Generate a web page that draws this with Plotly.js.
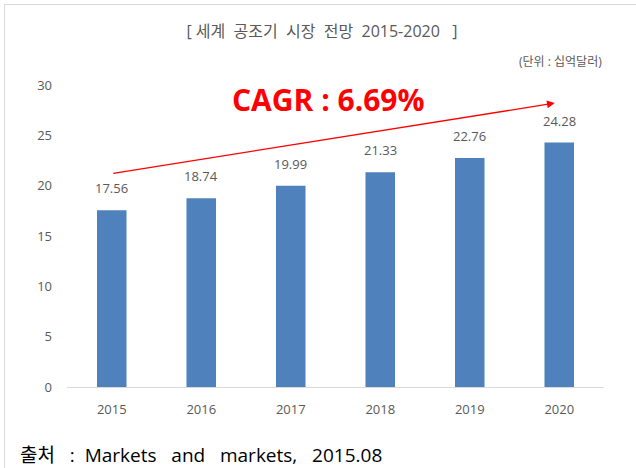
<!DOCTYPE html>
<html><head><meta charset="utf-8">
<script src="https://cdn.plot.ly/plotly-3.0.1.min.js"></script>
<style>
html,body{margin:0;padding:0;background:#fff;}
#frame{position:absolute;left:4px;top:4px;width:640px;height:470px;border-top:1px solid #d9d9d9;border-left:1px solid #d9d9d9;}
#chart{position:absolute;left:0;top:0;width:636px;height:468px;}
</style></head>
<body>
<div id="frame"></div>
<div id="chart"></div>
<script>
const years = ['2015','2016','2017','2018','2019','2020'];
const values = [17.56, 18.74, 19.99, 21.33, 22.76, 24.28];
const yTicks = [0, 5, 10, 15, 20, 25, 30];
const titleText = '[\u00a0세계\u00a0\u00a0공조기\u00a0\u00a0시장\u00a0\u00a0전망\u00a0\u00a02015-2020\u00a0\u00a0\u00a0]';
const unitText = '(단위 : 십억달러)';
const cagrText = 'CAGR\u00a0:\u00a06.69%';
const sourceText = '출처\u00a0\u00a0\u00a0:\u00a0\u00a0Markets\u00a0\u00a0\u00a0and\u00a0\u00a0\u00a0markets,\u00a0\u00a0\u00a02015.08';
const arrowStart = [0, 21.2];
const arrowEnd = [4.95, 28.2];

const font = "'Open Sans', 'Noto Sans CJK KR', sans-serif";
const grey = '#595959';
const xs = years.map((_, i) => i);

const labelAnns = xs.map((x, i) => ({
  x: x, y: values[i], xref: 'x', yref: 'y',
  text: values[i].toFixed(2), showarrow: false,
  yanchor: 'bottom', yshift: 11,
  font: {family: font, size: 13, color: grey}
}));

const layout = {
  width: 636, height: 468,
  margin: {l: 67, r: 32, t: 85, b: 81},
  paper_bgcolor: 'rgba(0,0,0,0)', plot_bgcolor: 'rgba(0,0,0,0)',
  showlegend: false,
  bargap: 0.67,
  font: {family: font, color: grey},
  title: {text: titleText, x: 322/636, xref: 'container', xanchor: 'center', y: 1 - 31/468, yanchor: 'middle',
          font: {family: font, size: 16, color: grey}},
  xaxis: {range: [-0.5, 5.5], tickvals: xs, ticktext: years, showgrid: false, showline: true,
          linecolor: '#d9d9d9', linewidth: 1, ticks: '', tickfont: {family: font, size: 13, color: grey},
          ticklabelstandoff: 10, zeroline: false},
  yaxis: {range: [0, 30], tickvals: yTicks, showgrid: false, showline: false, zeroline: false,
          ticks: '', tickfont: {family: font, size: 13, color: grey}, ticklabelstandoff: 14},
  annotations: labelAnns.concat([
    {xref: 'paper', yref: 'paper', x: 1.0, y: (468-62-81)/302, xanchor: 'right', yanchor: 'middle',
     text: unitText, showarrow: false, font: {family: font, size: 12, color: grey}},
    {xref: 'x', yref: 'y', x: arrowEnd[0], y: arrowEnd[1], ax: arrowStart[0], ay: arrowStart[1],
     axref: 'x', ayref: 'y', showarrow: true, arrowhead: 2, arrowsize: 1.2, arrowwidth: 1.3,
     arrowcolor: '#ff0000', text: ''},
    {xref: 'paper', yref: 'paper', x: (230-67)/537, y: (387-99)/302, xanchor: 'left', yanchor: 'middle',
     text: '<b>' + cagrText + '</b>', showarrow: false, font: {family: font, size: 30, color: '#ff0000'}},
    {xref: 'paper', yref: 'paper', x: (18-67)/537, y: -(455-387)/302, xanchor: 'left', yanchor: 'middle',
     text: sourceText, showarrow: false, font: {family: font, size: 19, color: '#000000'}}
  ])
};

Plotly.newPlot('chart', [{
  type: 'bar', x: xs, y: values,
  marker: {color: '#4f81bd'}, hoverinfo: 'none'
}], layout, {displayModeBar: false, staticPlot: true});
</script>
</body></html>
